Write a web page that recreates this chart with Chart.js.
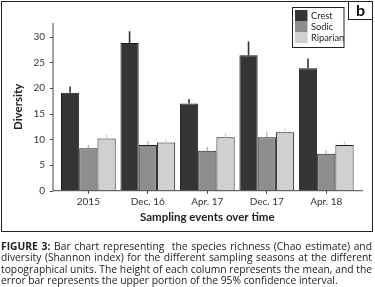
<!DOCTYPE html>
<html>
<head>
<meta charset="utf-8">
<script src="https://cdn.jsdelivr.net/npm/chart.js@4.4.1/dist/chart.umd.min.js"></script>
<style>
  html, body { margin: 0; padding: 0; background: #fff; }
  body { width: 375px; height: 287px; position: relative; overflow: hidden; font-family: Lato, sans-serif; }
  #wrap { position: absolute; left: 0; top: 0; width: 375px; height: 232px; }
  #frame { position: absolute; left: 1px; top: 1px; width: 372px; height: 231px; box-sizing: border-box; border: 1px solid #222; pointer-events: none; }
  #tag { position: absolute; left: 348px; top: 1px; width: 25px; height: 19px; box-sizing: border-box; border: 1px solid #222; font: bold 16px Lato, sans-serif; text-align: center; line-height: 16px; color: #111; }
  #caption { position: absolute; left: 1px; top: 241px; width: 371px; font: 10.3px "Open Sans", sans-serif; color: #222; line-height: 11.4px; }
  #caption div { text-align: justify; text-align-last: justify; white-space: nowrap; }
  #caption div.last { text-align-last: left; }
</style>
</head>
<body>
<div id="wrap"><canvas id="chart" width="375" height="232"></canvas></div>
<div id="frame"></div>
<div id="tag">b</div>
<div id="caption">
  <div><b>FIGURE 3:</b> Bar chart representing&nbsp; the species richness (Chao estimate) and</div>
  <div>diversity (Shannon index) for the different sampling seasons at the different</div>
  <div>topographical units. The height of each column represents the mean, and the</div>
  <div class="last">error bar represents the upper portion of the 95% confidence interval.</div>
</div>
<script>
const labels = ['2015', 'Dec. 16', 'Apr. 17', 'Dec. 17', 'Apr. 18'];
const crest = [19.1, 28.8, 17.0, 26.4, 23.9];
const sodic = [8.3, 8.9, 7.8, 10.4, 7.2];
const riparian = [10.2, 9.4, 10.4, 11.4, 8.9];
// upper end of the 95% CI
const crestErr = [20.3, 31.1, 17.9, 29.1, 25.8];
const sodicErr = [8.9, 9.7, 8.5, 11.4, 7.9];
const riparianErr = [10.9, 10.0, 11.3, 12.2, 9.7];
const yTicks = [0, 5, 10, 15, 20, 25, 30];

const errors = [crestErr, sodicErr, riparianErr];
const errColors = ['#333333', '#b4b4b4', '#d4d4d4'];

const axisPlugin = {
  id: 'axisPlugin',
  afterDatasetsDraw(chart) {
    const { ctx, chartArea, scales } = chart;
    const y = scales.y;
    // error bars
    chart.data.datasets.forEach((ds, i) => {
      const meta = chart.getDatasetMeta(i);
      meta.data.forEach((bar, j) => {
        const top = y.getPixelForValue(errors[i][j]);
        ctx.save();
        ctx.strokeStyle = errColors[i];
        ctx.lineWidth = i === 0 ? 1.6 : 1.4;
        ctx.beginPath();
        ctx.moveTo(bar.x, bar.y);
        ctx.lineTo(bar.x, top);
        ctx.stroke();
        ctx.restore();
      });
    });
    // axes lines
    const ax = chartArea.left - 5.6;
    const base = y.getPixelForValue(0);
    ctx.save();
    ctx.strokeStyle = '#444';
    ctx.lineWidth = 1;
    ctx.beginPath();
    ctx.moveTo(ax, chartArea.top);
    ctx.lineTo(ax, base);
    ctx.lineTo(chartArea.right + 7, base);
    yTicks.forEach(v => {
      const py = Math.round(y.getPixelForValue(v)) + 0.5;
      ctx.moveTo(ax - 3, py);
      ctx.lineTo(ax, py);
    });
    ctx.stroke();
    ctx.restore();
  },
  afterDraw(chart) {
    const { ctx } = chart;
    // legend box
    const lx = 292.5, ly = 7.5, lw = 51.5, lh = 40;
    ctx.save();
    ctx.strokeStyle = '#222';
    ctx.lineWidth = 1;
    ctx.strokeRect(lx, ly, lw, lh);
    ctx.font = '9.3px Lato, sans-serif';
    ctx.textBaseline = 'middle';
    ctx.fillStyle = '#222';
    chart.data.datasets.forEach((ds, i) => {
      const ry = 10 + i * 11;
      ctx.fillStyle = ds.backgroundColor;
      ctx.fillRect(295, ry, 12.5, 11);
      ctx.fillStyle = '#222';
      ctx.fillText(ds.label, 311, ry + 5.5);
    });
    ctx.restore();
  }
};

new Chart(document.getElementById('chart'), {
  type: 'bar',
  data: {
    labels,
    datasets: [
      { label: 'Crest', data: crest, backgroundColor: '#353535' },
      { label: 'Sodic', data: sodic, backgroundColor: '#8e8e8e' },
      { label: 'Riparian', data: riparian, backgroundColor: '#d0d0d0' }
    ]
  },
  options: {
    responsive: false,
    animation: false,
    devicePixelRatio: 1,
    datasets: {
      bar: { borderColor: '#1a1a1a', borderWidth: 1, borderSkipped: 'start', categoryPercentage: 0.92, barPercentage: 1.0 }
    },
    layout: { padding: { left: 0, right: 19, top: 23, bottom: 0 } },
    plugins: { legend: { display: false }, tooltip: { enabled: false } },
    scales: {
      x: {
        afterFit(scale) { scale.height = 41.3; },
        grid: { drawOnChartArea: false, offset: false, tickLength: 3, color: '#444' },
        border: { display: false },
        ticks: { color: '#333', font: { family: 'Lato', size: 10 }, padding: 2, maxRotation: 0 },
        title: { display: true, text: 'Sampling events over time', color: '#222', font: { family: 'Lato', size: 11.5, weight: 'bold' }, padding: { top: 0, bottom: 7.4 } }
      },
      y: {
        min: 0,
        max: 32.7,
        afterFit(scale) { scale.width = 58.6; },
        afterBuildTicks(scale) { scale.ticks = yTicks.map(v => ({ value: v })); },
        grid: { display: false, drawTicks: false },
        border: { display: false },
        ticks: { color: '#333', font: { family: 'Lato', size: 10 }, padding: 13.6 },
        title: { display: true, text: 'Diversity', color: '#222', font: { family: 'Lato', size: 11.5, weight: 'bold' }, padding: { top: 11.1, bottom: 0 } }
      }
    }
  },
  plugins: [axisPlugin]
});
</script>
</body>
</html>
